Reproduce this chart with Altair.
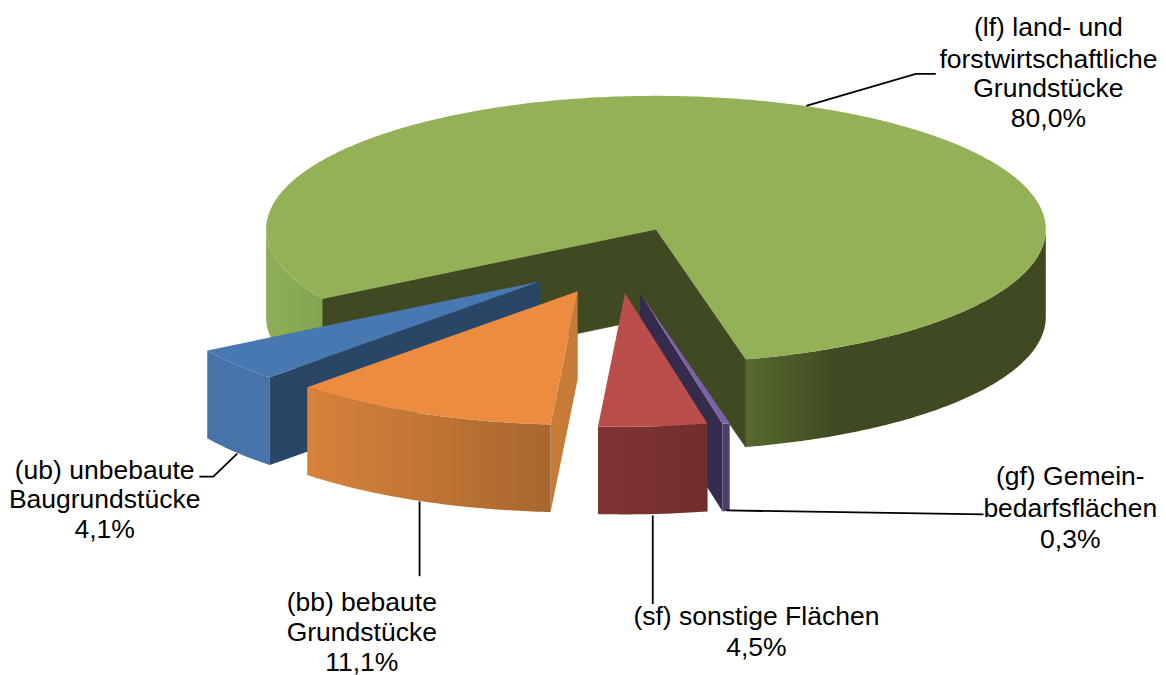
import math
import altair as alt
import pandas as pd

# --- data ---
categories = ["lf", "gf", "sf", "bb", "ub"]
shares = [80.0, 0.3, 4.5, 11.1, 4.1]
label_lines = [
    ["(lf) land- und", "forstwirtschaftliche", "Grundstücke", "80,0%"],
    ["(gf) Gemein-", "bedarfsflächen", "0,3%"],
    ["(sf) sonstige Flächen", "4,5%"],
    ["(bb) bebaute", "Grundstücke", "11,1%"],
    ["(ub) unbebaute", "Baugrundstücke", "4,1%"],
]
label_x = [1050, 1072, 757, 361, 103]
label_y = [[27, 59, 88, 118], [477, 510, 541], [618, 649], [604, 634, 664], [471, 501, 531]]
explode_x = [0, -16, -31, -78.5, -116]
explode_y = [0, 64, 64, 62, 52]
leaders = [
    [(807, 105), (917, 73), (937, 73)],
    [(727, 511), (985, 515)],
    [(653, 516), (653, 605)],
    [(419, 502), (419, 577)],
    [(236, 454), (212, 477), (198, 477)],
]

# pie geometry
CX, CY, RX, RY, DEPTH = 656.2, 229.0, 391.2, 134.0, 88.0
START = 238.7
W, H = 1150, 665


def rim(t, dx=0.0, dy=0.0, d=0.0):
    r = math.radians(t)
    return (CX + dx + RX * math.sin(r), CY + dy - RY * math.cos(r) + d)


def arc(t1, t2, dx=0.0, dy=0.0, d=0.0):
    n = max(2, int(abs(t2 - t1) * 1.5))
    return [rim(t1 + (t2 - t1) * i / n, dx, dy, d) for i in range(n + 1)]


def grad(*stops):
    return alt.LinearGradient(
        gradient="linear", x1=0, x2=1, y1=0, y2=0,
        stops=[alt.GradientStop(offset=o, color=c) for o, c in stops],
    )


x_scale = alt.Scale(domain=[8, 8 + W], range=[0, W], nice=False, zero=False)
y_scale = alt.Scale(domain=[8, 8 + H], range=[0, H], nice=False, zero=False)


def poly(pts, fill, edge="transparent"):
    df = pd.DataFrame({"x": [p[0] for p in pts], "y": [p[1] for p in pts], "i": range(len(pts))})
    return alt.Chart(df).mark_line(
        fill=fill, stroke=edge, strokeWidth=0.8 if edge != "transparent" else 0,
        interpolate="linear-closed", clip=False
    ).encode(
        x=alt.X("x:Q", scale=x_scale, axis=None),
        y=alt.Y("y:Q", scale=y_scale, axis=None),
        order=alt.Order("i:Q"),
    )


# slice angles from shares
angles = {}
a = START
for c, s in zip(categories, shares):
    angles[c] = (a, a + s * 3.6)
    a += s * 3.6
off = {c: (explode_x[i], explode_y[i]) for i, c in enumerate(categories)}

layers = []


def apex(c, d=0.0):
    return (CX + off[c][0], CY + off[c][1] + d)


def wall(c, t1, t2, fill):
    dx, dy = off[c]
    top = arc(t1, t2, dx, dy)
    bottom = arc(t2, t1, dx, dy, DEPTH)
    return poly(top + bottom, fill)


def cut(c, t, fill, edge="transparent"):
    dx, dy = off[c]
    return poly([apex(c), rim(t, dx, dy), rim(t, dx, dy, DEPTH), apex(c, DEPTH)], fill, edge)


def top(c, fill):
    t1, t2 = angles[c]
    dx, dy = off[c]
    return poly([apex(c)] + arc(t1, t2, dx, dy), fill)


# lf (large green slice)
t1, t2 = angles["lf"]
layers.append(wall("lf", t1, 270, grad((0, "#8FAD56"), (1, "#83A551"))))
layers.append(wall("lf", t2 - 360, 90, grad((0, "#56692E"), (0.3, "#3F4A22"), (1, "#3F4A22"))))
layers.append(cut("lf", t1, "#3F4A22", "#3F4A22"))
layers.append(cut("lf", t2, "#3F4A22", "#3F4A22"))
layers.append(top("lf", "#94B158"))

# ub (blue)
t1, t2 = angles["ub"]
layers.append(wall("ub", t1, t2, "#4674A8"))
layers.append(cut("ub", t1, "#2A4666"))
layers.append(top("ub", "#4878B1"))

# bb (orange)
t1, t2 = angles["bb"]
layers.append(cut("bb", t1, "#C67B36"))
layers.append(wall("bb", t1, t2, grad((0, "#D8823A"), (1, "#A7672F"))))
layers.append(top("bb", "#EB8C41"))

# gf (purple)
t1, t2 = angles["gf"]
layers.append(cut("gf", t2, "#352B4C"))
layers.append(wall("gf", t1, t2, "#4F3D6A"))
layers.append(top("gf", "#7C60A8"))

# sf (red)
t1, t2 = angles["sf"]
layers.append(wall("sf", t1, t2, grad((0, "#803432"), (1, "#722D2B"))))
layers.append(top("sf", "#B94E4A"))

# leader lines
rows = []
for k, line in enumerate(leaders):
    for i, (px, py) in enumerate(line):
        rows.append({"k": k, "i": i, "x": px, "y": py})
layers.append(
    alt.Chart(pd.DataFrame(rows)).mark_line(color="black", strokeWidth=1.8).encode(
        x=alt.X("x:Q", scale=x_scale, axis=None),
        y=alt.Y("y:Q", scale=y_scale, axis=None),
        detail="k:N",
        order=alt.Order("i:Q"),
    )
)

# labels
rows = []
for lines, lx, ys in zip(label_lines, label_x, label_y):
    for txt, ly in zip(lines, ys):
        rows.append({"t": txt, "x": lx, "y": ly})
layers.append(
    alt.Chart(pd.DataFrame(rows)).mark_text(
        font="Liberation Sans", fontSize=26.6, color="black", align="center", baseline="middle"
    ).encode(
        x=alt.X("x:Q", scale=x_scale, axis=None),
        y=alt.Y("y:Q", scale=y_scale, axis=None),
        text="t:N",
    )
)

chart = alt.layer(*layers).properties(
    width=W, height=H, padding=0, background="white"
).configure_view(stroke=None)

chart.save("out.html", embed_options={"renderer": "svg", "actions": False})
